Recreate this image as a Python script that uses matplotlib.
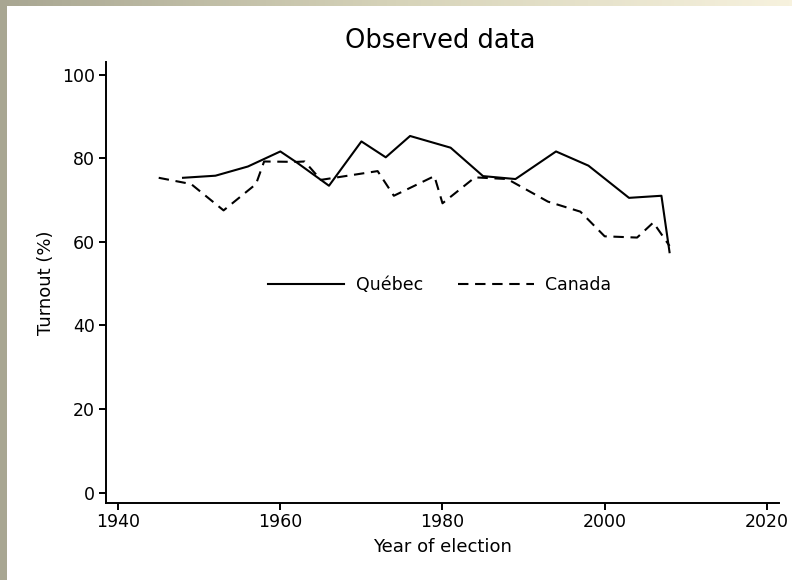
import numpy as np
import matplotlib
matplotlib.use("Agg")
import matplotlib.pyplot as plt
from matplotlib.colors import LinearSegmentedColormap

# Data
quebec_years = [1948, 1952, 1956, 1960, 1962, 1966, 1970, 1973, 1976, 1981, 1985, 1989, 1994, 1998, 2003, 2007, 2008]
quebec_turnout = [75.3, 75.8, 78.0, 81.6, 79.0, 73.4, 84.0, 80.2, 85.3, 82.5, 75.7, 75.0, 81.6, 78.2, 70.5, 71.0, 57.5]
canada_years = [1945, 1949, 1953, 1957, 1958, 1962, 1963, 1965, 1968, 1972, 1974, 1979, 1980, 1984, 1988, 1993, 1997, 2000, 2004, 2006, 2008]
canada_turnout = [75.3, 73.8, 67.5, 73.8, 79.2, 79.1, 79.2, 74.8, 75.7, 76.9, 71.0, 75.7, 69.2, 75.4, 75.0, 69.6, 67.2, 61.3, 61.0, 64.6, 59.0]
x_ticks = [1940, 1960, 1980, 2000, 2020]
y_ticks = [0, 20, 40, 60, 80, 100]

plt.rcParams['font.family'] = ['DejaVu Sans']

W, H = 792, 580
fig = plt.figure(figsize=(W / 100, H / 100), dpi=100)
fig.patch.set_facecolor("white")

# decorative border strips
c0 = "#a8a692"
c1 = "#f7f2de"
cmap = LinearSegmentedColormap.from_list("b", [c0, "#d6d3b9", c1])
top = fig.add_axes([0, 1 - 6 / H, 1, 6 / H])
top.imshow(np.linspace(0, 1, 256)[None, :], aspect="auto", cmap=cmap, extent=[0, 1, 0, 1])
top.axis("off")
left = fig.add_axes([0, 0, 7 / W, 1])
left.set_facecolor(c0)
left.set_xticks([]); left.set_yticks([])
for s in left.spines.values():
    s.set_visible(False)

ax = fig.add_axes([106 / W, 1 - 503 / H, (779 - 106) / W, (503 - 62) / H])
lw = 1.5
ax.plot(quebec_years, quebec_turnout, color="black", lw=lw, label="Québec")
ax.plot(canada_years, canada_turnout, color="black", lw=lw, dashes=(5, 3.2), label="Canada")

ax.set_xlim(1938.5, 2021.5)
ax.set_ylim(-2.5, 103)
ax.set_xticks(x_ticks)
ax.set_yticks(y_ticks)
for s in ["top", "right"]:
    ax.spines[s].set_visible(False)
for s in ["left", "bottom"]:
    ax.spines[s].set_linewidth(1.4)
ax.tick_params(axis="both", direction="out", length=5, width=1.4, labelsize=12.5, colors="black")
ax.tick_params(axis="x", pad=2)
ax.tick_params(axis="y", pad=3)

ax.set_xlabel("Year of election", fontsize=13, labelpad=5)
ax.set_ylabel("Turnout (%)", fontsize=13, labelpad=5)
fig.text(440 / W, 1 - 41 / H, "Observed data", ha="center", va="center", fontsize=18.5)

ax.legend(loc="center", bbox_to_anchor=(0.496, 0.494), ncol=2, frameon=False,
          fontsize=12.5, handlelength=4.4, handletextpad=0.65, columnspacing=2.0)

fig.savefig("out.png", dpi=100, facecolor=fig.get_facecolor())
